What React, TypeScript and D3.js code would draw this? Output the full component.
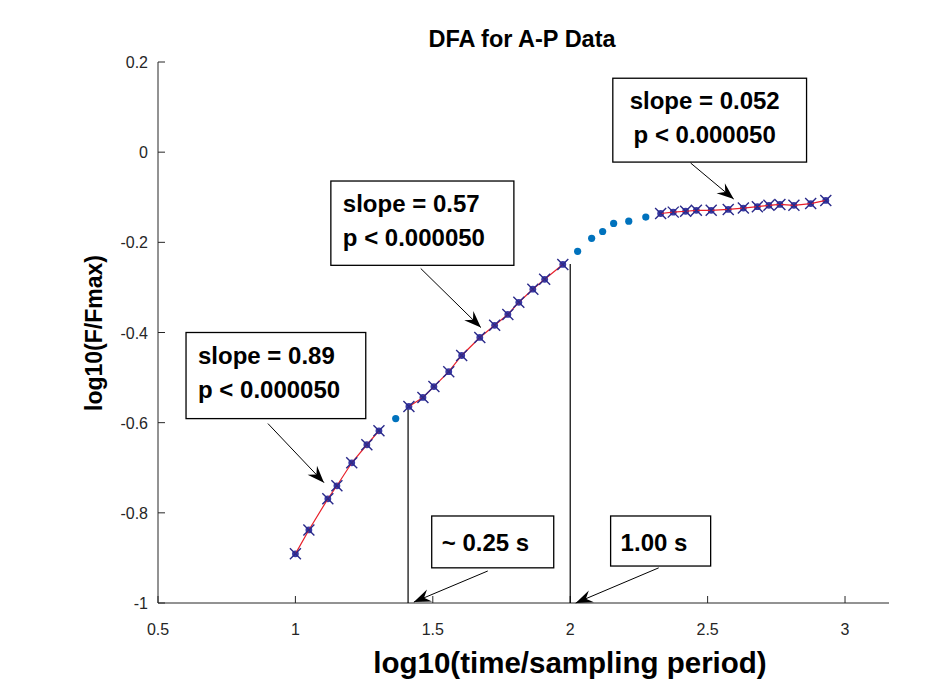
import React, { useMemo } from 'react';
import * as d3 from 'd3';

const WIDTH = 950;
const HEIGHT = 693;
const PLOT = { left: 158, right: 889, top: 62, bottom: 603 };
const X_DOMAIN = [0.5, 3.16];
const Y_DOMAIN = [-1, 0.2];

const X_TICKS = [0.5, 1, 1.5, 2, 2.5, 3];
const Y_TICKS = [0.2, 0, -0.2, -0.4, -0.6, -0.8, -1];

// fitted ranges (log10 window size vs log10 F/Fmax)
const SEG1_X = [1.0, 1.049, 1.118, 1.151, 1.205, 1.26, 1.304];
const SEG1_Y = [-0.891, -0.838, -0.769, -0.74, -0.689, -0.649, -0.618];
const SEG2_X = [1.413, 1.464, 1.504, 1.558, 1.605, 1.671, 1.725, 1.773, 1.813, 1.864, 1.907, 1.973];
const SEG2_Y = [-0.564, -0.544, -0.52, -0.487, -0.451, -0.411, -0.384, -0.36, -0.333, -0.304, -0.282, -0.249];
const SEG3_X = [2.329, 2.375, 2.42, 2.459, 2.513, 2.575, 2.63, 2.681, 2.723, 2.763, 2.814, 2.875, 2.93];
const SEG3_Y = [-0.136, -0.133, -0.131, -0.129, -0.129, -0.127, -0.124, -0.121, -0.118, -0.116, -0.118, -0.114, -0.107];

// points outside the fits
const GAP_X = [1.365, 2.027, 2.078, 2.118, 2.158, 2.213, 2.275];
const GAP_Y = [-0.591, -0.22, -0.191, -0.176, -0.158, -0.153, -0.144];

// crossover markers
const CROSS_X = [1.41, 2.0];
const CROSS_TOP = [-0.565, -0.248];

const ANNOTATIONS = [
  { lines: ['slope = 0.89', 'p < 0.000050'], box: [0.602, -0.4, 1.256, -0.591], from: [0.9, -0.602], to: [1.104, -0.733], align: 'start' },
  { lines: ['slope = 0.57', 'p < 0.000050'], box: [1.129, -0.064, 1.795, -0.251], from: [1.456, -0.258], to: [1.675, -0.389], align: 'start' },
  { lines: ['slope = 0.052', 'p < 0.000050'], box: [2.155, 0.164, 2.86, -0.022], from: [2.438, -0.024], to: [2.595, -0.104], align: 'middle' },
  { lines: ['~ 0.25 s'], box: [1.496, -0.807, 1.94, -0.922], from: [1.7, -0.929], to: [1.431, -0.998], align: 'start' },
  { lines: ['1.00 s'], box: [2.147, -0.807, 2.511, -0.918], from: [2.322, -0.922], to: [2.02, -1.0], align: 'start' },
];

const FONT = '"Liberation Sans", Arial, Helvetica, sans-serif';
const AXIS_COLOR = '#262626';
const DOT_COLOR = '#0072BD';

function arrowHead(x1, y1, x2, y2, len = 17, half = 6.5) {
  const a = Math.atan2(y2 - y1, x2 - x1);
  const ux = Math.cos(a), uy = Math.sin(a);
  const bx = x2 - ux * len, by = y2 - uy * len;
  const nx = x2 - ux * len * 0.65, ny = y2 - uy * len * 0.65;
  return [
    [x2, y2],
    [bx - uy * half, by + ux * half],
    [nx, ny],
    [bx + uy * half, by - ux * half],
  ].map((p) => p.join(',')).join(' ');
}

export default function App() {
  const { x, y, segs, gaps } = useMemo(() => {
    const x = d3.scaleLinear().domain(X_DOMAIN).range([PLOT.left, PLOT.right]);
    const y = d3.scaleLinear().domain(Y_DOMAIN).range([PLOT.bottom, PLOT.top]);
    const line = d3.line().x((d) => x(d[0])).y((d) => y(d[1]));
    const segs = [
      [SEG1_X, SEG1_Y],
      [SEG2_X, SEG2_Y],
      [SEG3_X, SEG3_Y],
    ].map(([xs, ys]) => {
      const pts = xs.map((v, i) => [v, ys[i]]);
      return { pts, d: line(pts) ?? '' };
    });
    const gaps = GAP_X.map((v, i) => [v, GAP_Y[i]]);
    return { x, y, segs, gaps };
  }, []);

  return (
    <svg
      width={WIDTH}
      height={HEIGHT}
      style={{ position: 'absolute', left: 0, top: 0, background: '#fff' }}
      fontFamily={FONT}
    >
      <rect width={WIDTH} height={HEIGHT} fill="#fff" />

      {/* axes */}
      <line x1={PLOT.left} x2={PLOT.right} y1={PLOT.bottom} y2={PLOT.bottom} stroke={AXIS_COLOR} />
      <line x1={PLOT.left} x2={PLOT.left} y1={PLOT.top} y2={PLOT.bottom} stroke={AXIS_COLOR} />
      {X_TICKS.map((t) => (
        <g key={`xt-${t}`}>
          <line x1={x(t)} x2={x(t)} y1={PLOT.bottom} y2={PLOT.bottom - 7} stroke={AXIS_COLOR} />
          <text x={x(t)} y={PLOT.bottom + 32} textAnchor="middle" fontSize={16} fill={AXIS_COLOR}>
            {t}
          </text>
        </g>
      ))}
      {Y_TICKS.map((t) => (
        <g key={`yt-${t}`}>
          <line x1={PLOT.left} x2={PLOT.left + 7} y1={y(t)} y2={y(t)} stroke={AXIS_COLOR} />
          <text x={PLOT.left - 10} y={y(t) + 6} textAnchor="end" fontSize={16} fill={AXIS_COLOR}>
            {t}
          </text>
        </g>
      ))}

      <text x={522} y={47} textAnchor="middle" fontSize={23.5} fontWeight="bold" fill="#000">
        DFA for A-P Data
      </text>
      <text x={570} y={673} textAnchor="middle" fontSize={29.5} fontWeight="bold" fill="#000">
        log10(time/sampling period)
      </text>
      <text
        transform={`translate(102, 333) rotate(-90)`}
        textAnchor="middle"
        fontSize={23}
        fontWeight="bold"
        fill="#000"
      >
        log10(F/Fmax)
      </text>

      {/* crossover lines */}
      {CROSS_X.map((c, i) => (
        <line key={`cx-${i}`} x1={x(c)} x2={x(c)} y1={y(CROSS_TOP[i])} y2={y(-1)} stroke="#000" strokeWidth={1.2} />
      ))}

      {/* unfitted points */}
      {gaps.map((p, i) => (
        <circle key={`g-${i}`} cx={x(p[0])} cy={y(p[1])} r={3.6} fill={DOT_COLOR} />
      ))}

      {/* fitted segments */}
      {segs.map((s, si) => (
        <g key={`s-${si}`}>
          {s.pts.map((p, i) => (
            <circle key={`sd-${i}`} cx={x(p[0])} cy={y(p[1])} r={3.4} fill="#3a3aa8" />
          ))}
          <path d={s.d} fill="none" stroke="#e8202a" strokeWidth={1.2} />
          {s.pts.map((p, i) => {
            const cx = x(p[0]);
            const cy = y(p[1]);
            return (
              <path
                key={`sx-${i}`}
                d={`M${cx - 5.5},${cy - 5.5}L${cx + 5.5},${cy + 5.5}M${cx - 5.5},${cy + 5.5}L${cx + 5.5},${cy - 5.5}`}
                stroke="#2a2a8a"
                strokeWidth={1.4}
              />
            );
          })}
        </g>
      ))}

      {/* annotations */}
      {ANNOTATIONS.map((a, i) => {
        const bx0 = x(a.box[0]);
        const by0 = y(a.box[1]);
        const bx1 = x(a.box[2]);
        const by1 = y(a.box[3]);
        const fx = x(a.from[0]);
        const fy = y(a.from[1]);
        const tx = x(a.to[0]);
        const ty = y(a.to[1]);
        const single = a.lines.length === 1;
        const textX = a.align === 'middle' ? (bx0 + bx1) / 2 - 5 : bx0 + (single ? 10 : 12);
        return (
          <g key={`an-${i}`}>
            <rect x={bx0} y={by0} width={bx1 - bx0} height={by1 - by0} fill="#fff" stroke="#000" strokeWidth={1.3} />
            {a.lines.map((l, li) => (
              <text
                key={`al-${li}`}
                x={textX}
                y={by0 + (single ? 35 : 31 + li * 34)}
                textAnchor={a.align}
                fontSize={24}
                fontWeight="bold"
                fill="#000"
              >
                {l}
              </text>
            ))}
            <line x1={fx} y1={fy} x2={tx} y2={ty} stroke="#000" strokeWidth={1} />
            <polygon points={arrowHead(fx, fy, tx, ty)} fill="#000" />
          </g>
        );
      })}
    </svg>
  );
}
